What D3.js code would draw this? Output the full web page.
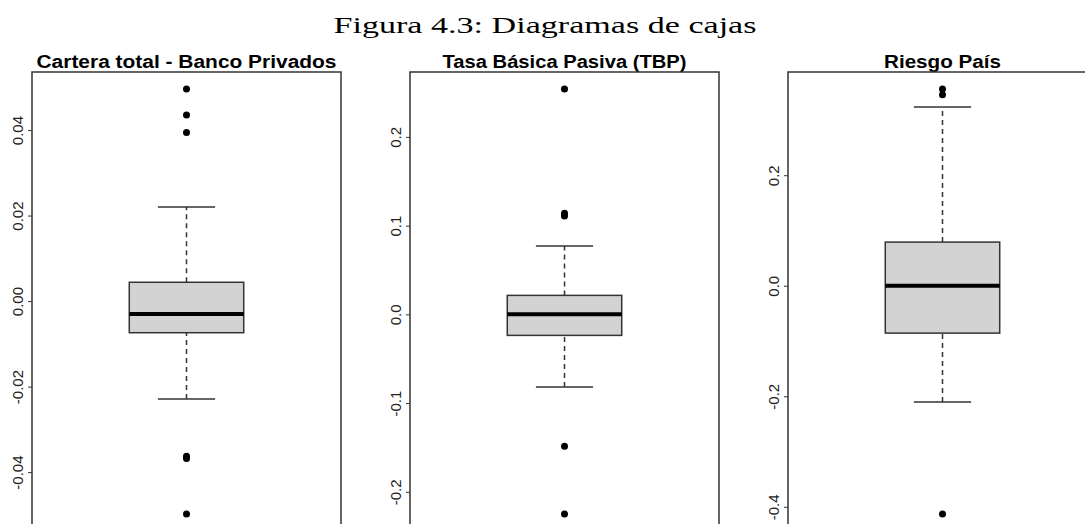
<!DOCTYPE html>
<html>
<head>
<meta charset="utf-8">
<script src="https://cdn.jsdelivr.net/npm/d3@7"></script>
<style>
  body { margin: 0; background: #fff; }
  svg { display: block; }
</style>
</head>
<body>
<svg id="chart" width="1085" height="524"></svg>
<script>
// titulos de cada panel
const panelTitles = ['Cartera total - Banco Privados', 'Tasa Básica Pasiva (TBP)', 'Riesgo País'];
const titleWidths = [300, 244, 117];

// estadisticos de caja: [bigote inf, Q1, mediana, Q3, bigote sup]
const carteraStats = [-0.0229, -0.0074, -0.0030, 0.0044, 0.0220];
const tbpStats = [-0.082, -0.0237, 0.0, 0.0214, 0.0771];
const riesgoStats = [-0.2105, -0.0857, 0.0, 0.079, 0.3234];

// valores atipicos
const carteraOutliers = [0.0496, 0.0435, 0.0394, -0.0363, -0.0368, -0.0498];
const tbpOutliers = [0.254, 0.114, 0.111, -0.1486, -0.225];
const riesgoOutliers = [0.356, 0.3457, -0.413];

// etiquetas del eje y
const carteraTicks = [-0.04, -0.02, 0.00, 0.02, 0.04];
const tbpTicks = [-0.2, -0.1, 0.0, 0.1, 0.2];
const riesgoTicks = [-0.4, -0.2, 0.0, 0.2];
const tickDigits = [2, 1, 1];

const allStats = [carteraStats, tbpStats, riesgoStats];
const allOutliers = [carteraOutliers, tbpOutliers, riesgoOutliers];
const allTicks = [carteraTicks, tbpTicks, riesgoTicks];

const svg = d3.select('#chart');
const plotTop = 72, plotBottom = 531;
const panelStep = 378, frameWidth = 309, firstLeft = 32;
const ink = '#333';

svg.append('text')
    .attr('x', 545)
    .attr('y', 33)
    .attr('text-anchor', 'middle')
    .attr('font-family', '"Liberation Serif", "DejaVu Serif", serif')
    .attr('font-size', 23)
    .attr('textLength', 423)
    .attr('lengthAdjust', 'spacingAndGlyphs')
    .attr('fill', '#000')
    .text('Figura 4.3: Diagramas de cajas');

panelTitles.forEach((title, i) => {
    const stats = allStats[i];
    const outliers = allOutliers[i];
    const left = firstLeft + panelStep * i;

    // rango como en R: extension del 4%
    const lo = d3.min([stats[0], ...outliers]);
    const hi = d3.max([stats[4], ...outliers]);
    const pad = (hi - lo) * 0.04;

    const y = d3.scaleLinear()
        .domain([lo - pad, hi + pad])
        .range([plotBottom, plotTop]);

    const x = d3.scaleLinear()
        .domain([0.46, 1.54])
        .range([left, left + frameWidth]);

    const g = svg.append('g');

    // titulo del panel
    g.append('text')
        .attr('x', left + frameWidth / 2)
        .attr('y', 68)
        .attr('text-anchor', 'middle')
        .attr('font-family', '"Liberation Sans", Arial, sans-serif')
        .attr('font-weight', 'bold')
        .attr('font-size', 18)
        .attr('textLength', titleWidths[i])
        .attr('lengthAdjust', 'spacingAndGlyphs')
        .attr('fill', '#000')
        .text(title);

    // eje y (guion normal como en R)
    const fmt = d3.format('.' + tickDigits[i] + 'f');
    const axis = d3.axisLeft(y)
        .tickValues(allTicks[i])
        .tickSize(4)
        .tickPadding(0)
        .tickFormat(d => fmt(d).replace('\u2212', '-'));

    const ax = g.append('g')
        .attr('transform', `translate(${left},0)`)
        .call(axis);
    ax.select('.domain').remove();
    ax.selectAll('.tick line').attr('stroke', ink);
    ax.selectAll('.tick text')
        .attr('font-family', '"Liberation Sans", Arial, sans-serif')
        .attr('font-size', 15)
        .attr('fill', '#222')
        .attr('text-anchor', 'middle')
        .attr('x', 0)
        .attr('dy', 0)
        .attr('transform', 'translate(-9,0) rotate(-90)');

    // bigotes
    g.selectAll('line.whisker')
        .data([[stats[0], stats[1]], [stats[3], stats[4]]])
        .join('line')
        .attr('class', 'whisker')
        .attr('x1', x(1)).attr('x2', x(1))
        .attr('y1', d => y(d[0])).attr('y2', d => y(d[1]))
        .attr('stroke', ink)
        .attr('stroke-width', 1.5)
        .attr('stroke-dasharray', '5,4');

    g.selectAll('line.staple')
        .data([stats[0], stats[4]])
        .join('line')
        .attr('class', 'staple')
        .attr('x1', x(0.9)).attr('x2', x(1.1))
        .attr('y1', d => y(d)).attr('y2', d => y(d))
        .attr('stroke', ink)
        .attr('stroke-width', 1.5);

    // caja
    g.append('rect')
        .attr('x', x(0.8))
        .attr('y', y(stats[3]))
        .attr('width', x(1.2) - x(0.8))
        .attr('height', y(stats[1]) - y(stats[3]))
        .attr('fill', '#d3d3d3')
        .attr('stroke', ink)
        .attr('stroke-width', 1.5);

    g.append('line')
        .attr('x1', x(0.8)).attr('x2', x(1.2))
        .attr('y1', y(stats[2])).attr('y2', y(stats[2]))
        .attr('stroke', '#000')
        .attr('stroke-width', 4);

    // atipicos
    g.selectAll('circle')
        .data(outliers)
        .join('circle')
        .attr('cx', x(1))
        .attr('cy', d => y(d))
        .attr('r', 3.5)
        .attr('fill', '#000');

    // marco
    g.append('rect')
        .attr('x', left)
        .attr('y', plotTop)
        .attr('width', frameWidth)
        .attr('height', plotBottom - plotTop)
        .attr('fill', 'none')
        .attr('stroke', ink)
        .attr('stroke-width', 1.5);
});
</script>
</body>
</html>
